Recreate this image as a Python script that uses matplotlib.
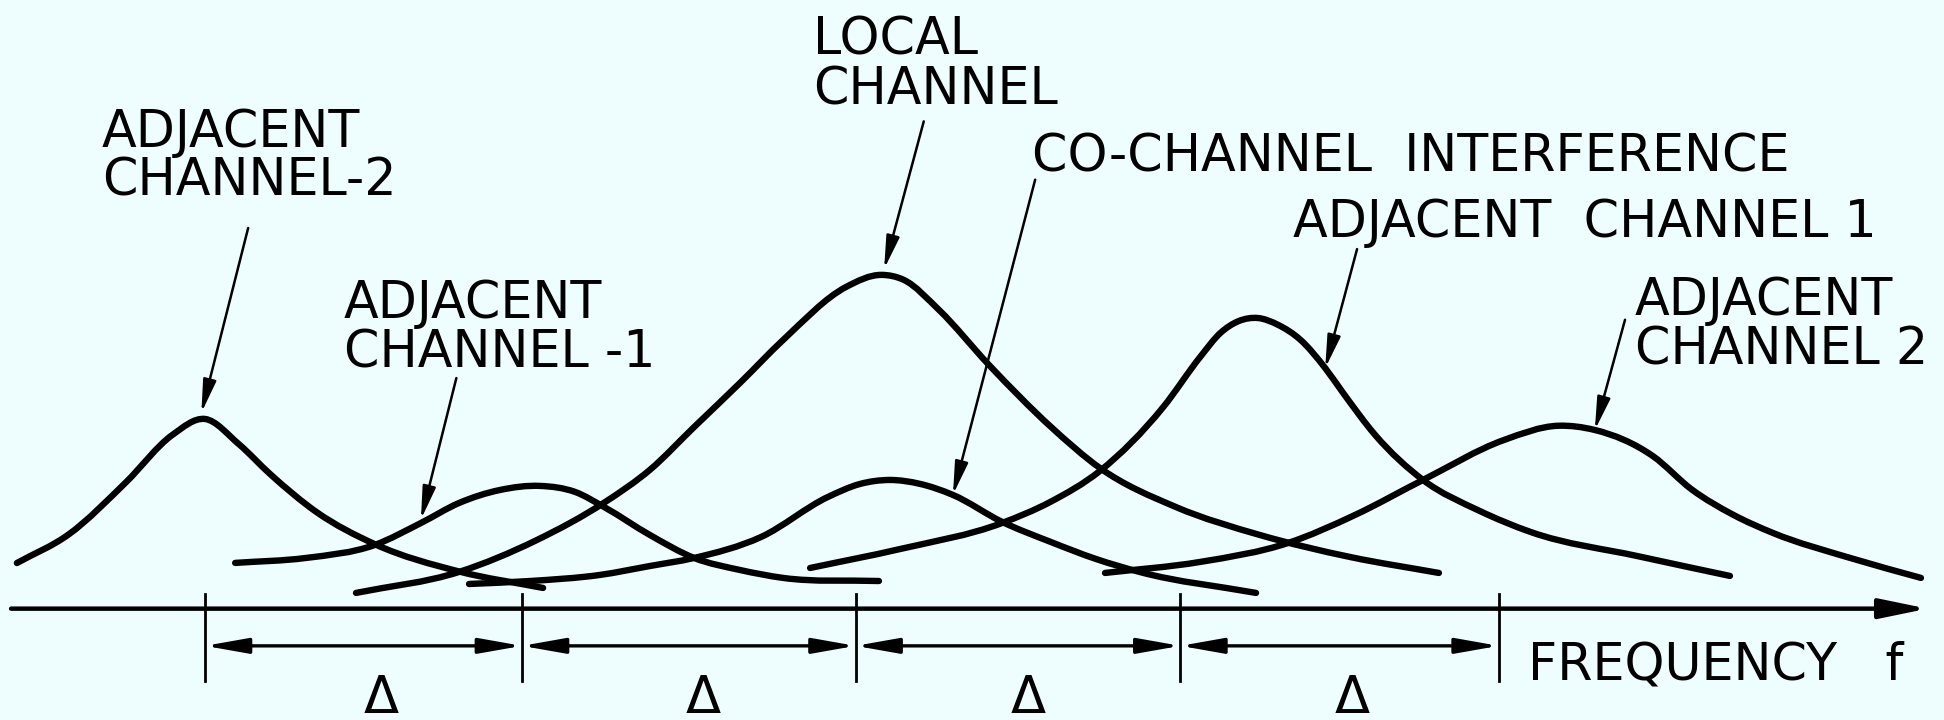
import numpy as np
import matplotlib.pyplot as plt
from matplotlib.path import Path
from matplotlib.patches import PathPatch

# frequency in units of delta, amplitude in arbitrary units
adj_m2_f = [-2.582, -2.422, -2.246, -2.104, -2.003, -1.90, -1.80, -1.66, -1.48, -1.221, -0.962]
adj_m2_a = [0.368, 0.60, 1.02, 1.40, 1.53, 1.33, 1.08, 0.78, 0.52, 0.30, 0.167]

adj_m1_f = [-1.910, -1.692, -1.480, -1.338, -1.221, -1.095, -0.971, -0.863, -0.771, -0.633, -0.497, -0.356, -0.223, 0.072]
adj_m1_a = [0.369, 0.409, 0.514, 0.691, 0.852, 0.957, 0.990, 0.941, 0.815, 0.594, 0.409, 0.312, 0.248, 0.223]

local_f = [-1.538, -1.221, -0.984, -0.771, -0.633, -0.497, -0.356, -0.223, -0.029, 0.079, 0.149, 0.257,
           0.411, 0.602, 0.752, 0.986, 1.245, 1.522, 1.796]
local_a = [0.127, 0.296, 0.55, 0.86, 1.12, 1.465, 1.820, 2.167, 2.595, 2.692, 2.651, 2.409,
           1.965, 1.465, 1.135, 0.820, 0.594, 0.417, 0.288]

cochan_f = [-1.190, -1.002, -0.787, -0.633, -0.497, -0.291, -0.085, 0.014, 0.106, 0.199, 0.300,
            0.451, 0.599, 0.741, 0.876, 1.233]
cochan_a = [0.199, 0.223, 0.272, 0.344, 0.409, 0.578, 0.901, 1.006, 1.038, 1.006, 0.917,
            0.70, 0.54, 0.40, 0.295, 0.127]

adj_p1_f = [-0.140, 0.137, 0.451, 0.599, 0.752, 0.947, 1.061, 1.123, 1.18, 1.239, 1.30, 1.369,
            1.446, 1.501, 1.60, 1.747, 1.92, 2.080, 2.409, 2.692]
adj_p1_a = [0.328, 0.481, 0.691, 0.86, 1.11, 1.625, 2.03, 2.223, 2.32, 2.344, 2.29, 2.17,
            1.94, 1.74, 1.40, 1.038, 0.79, 0.617, 0.423, 0.264]

adj_p2_f = [0.768, 1.061, 1.332, 1.538, 1.747, 1.996, 2.162, 2.276, 2.455, 2.575, 2.70, 2.824, 3.062, 3.280]
adj_p2_a = [0.288, 0.377, 0.530, 0.756, 1.038, 1.360, 1.475, 1.441, 1.23, 0.96, 0.76, 0.611, 0.409, 0.248]

tick_f = [-2.003, -1.027, 0.0, 1.0, 1.98]
delta_f = [-1.46, -0.47, 0.53, 1.53]

# label text, label position, arrow tail, arrow head
labels = ["ADJACENT\nCHANNEL-2", "ADJACENT\nCHANNEL -1", "LOCAL\nCHANNEL",
          "CO-CHANNEL  INTERFERENCE", "ADJACENT  CHANNEL 1", "ADJACENT\nCHANNEL 2"]
label_xy = [(-2.32, 3.64), (-1.576, 2.26), (-0.13, 4.38), (0.542, 3.64), (1.347, 3.11), (2.40, 2.28)]
arrow_tail = [(-1.870, 3.07), (-1.229, 1.86), (0.21, 3.93), (0.553, 3.46), (1.544, 2.90), (2.369, 2.33)]
arrow_head = [(-2.014, 1.58), (-1.338, 0.72), (0.088, 2.74), (0.300, 0.92), (1.446, 1.94), (2.276, 1.44)]


def smooth(xs, ys):
    # cubic hermite through the read points, drawn as bezier segments
    x = np.asarray(xs, float)
    y = np.asarray(ys, float)
    h = np.diff(x)
    d = np.diff(y) / h
    m = np.empty_like(x)
    m[0], m[-1] = d[0], d[-1]
    m[1:-1] = (d[:-1] * h[1:] + d[1:] * h[:-1]) / (h[:-1] + h[1:])
    verts = [(x[0], y[0])]
    codes = [Path.MOVETO]
    for i in range(len(x) - 1):
        verts += [(x[i] + h[i] / 3, y[i] + m[i] * h[i] / 3),
                  (x[i + 1] - h[i] / 3, y[i + 1] - m[i + 1] * h[i] / 3),
                  (x[i + 1], y[i + 1])]
        codes += [Path.CURVE4] * 3
    return Path(verts, codes)


bg = '#eefefe'
fig = plt.figure(figsize=(19.44, 7.2), dpi=100, facecolor=bg)
ax = fig.add_axes([0, 0, 1, 1])
ax.set_facecolor(bg)
ax.set_xlim(-2.634, 3.351)
ax.set_ylim(-0.898, 4.909)
ax.axis('off')

for fx, fy in [(adj_m2_f, adj_m2_a), (adj_m1_f, adj_m1_a), (local_f, local_a),
               (cochan_f, cochan_a), (adj_p1_f, adj_p1_a), (adj_p2_f, adj_p2_a)]:
    ax.add_patch(PathPatch(smooth(fx, fy), fill=False, lw=4.6, ec='black',
                           capstyle='round', joinstyle='round'))

# frequency axis
ax.annotate('', xy=(3.30, 0), xytext=(-2.60, 0),
            arrowprops=dict(arrowstyle='-|>,head_length=1.45,head_width=0.3', lw=3.2,
                            color='black', mutation_scale=20, shrinkA=0, shrinkB=0))
for t in tick_f:
    ax.plot([t, t], [0.12, -0.58], color='black', lw=2.0)
for a, b in zip(tick_f[:-1], tick_f[1:]):
    ax.annotate('', xy=(b, -0.30), xytext=(a, -0.30),
                arrowprops=dict(arrowstyle='<|-|>,head_length=1.3,head_width=0.23', lw=2.4,
                                color='black', mutation_scale=20, shrinkA=0, shrinkB=0))
for d in delta_f:
    ax.text(d, -0.84, "Δ", fontsize=37, ha='center', va='baseline')
ax.text(2.07, -0.575, "FREQUENCY   f", fontsize=36.5, ha='left', va='baseline')

for txt, xy, tail, head in zip(labels, label_xy, arrow_tail, arrow_head):
    ax.text(xy[0], xy[1], txt, fontsize=36.5, ha='left', va='center', linespacing=0.98)
    ax.annotate('', xy=head, xytext=tail,
                arrowprops=dict(arrowstyle='-|>,head_length=1.0,head_width=0.2', lw=1.8,
                                color='black', mutation_scale=20, shrinkA=0, shrinkB=0))

plt.savefig('out.png', dpi=100, facecolor=bg)
